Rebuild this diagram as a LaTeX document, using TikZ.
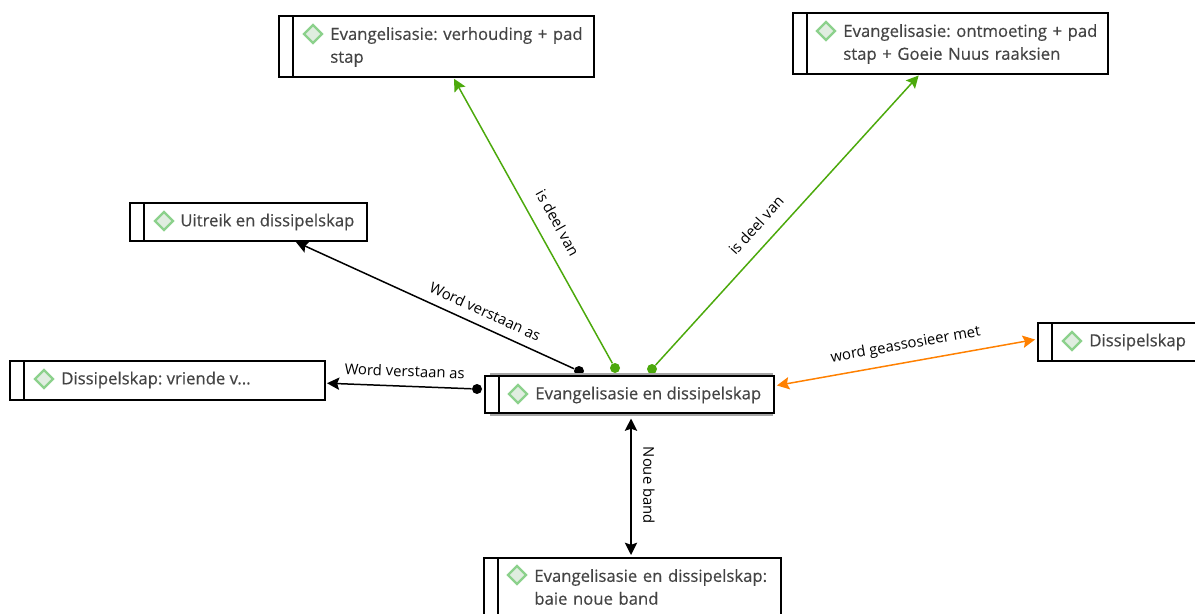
\documentclass[tikz,border=0pt]{standalone}
\usepackage{fontspec}
\setmainfont{Open Sans}
\newfontfamily\itemfont[FakeBold=0.4]{Open Sans}
\frenchspacing
\usetikzlibrary{positioning,arrows.meta,shapes.geometric}
\definecolor{boxtext}{HTML}{444444}
\definecolor{linkgreen}{HTML}{4CA90C}
\definecolor{linkorange}{HTML}{FF8000}
\tikzset{
	itembox/.style={draw=black,fill=white,line width=1.1pt,inner sep=0pt,outer sep=0pt},
	itemstrip/.style={draw=black,fill=white,line width=1.1pt,inner sep=0pt,outer sep=0pt,minimum width=0.28cm,anchor=east},
	itemmark/.style={diamond,draw=green!60!black!45,fill=green!40!black!12,line width=1.3pt,inner sep=0pt,minimum width=0.38cm,minimum height=0.38cm},
	itemtext/.style={text=boxtext,font=\itemfont\fontsize{9.5pt}{13pt}\selectfont,align=left,anchor=west,inner sep=0pt},
	linktext/.style={font=\fontsize{8.45pt}{10pt}\selectfont,sloped,above,inner sep=5pt},
	endblack/.style={circle,fill=black,inner sep=0pt,minimum size=0.2cm},
	endgreen/.style={circle,fill=linkgreen,inner sep=0pt,minimum size=0.2cm},
	linkline/.style={line width=0.85pt,shorten >=0.04cm,-{Stealth[length=7pt,width=7pt,inset=1.2pt]}},
	bothline/.style={line width=0.85pt,shorten >=0.06cm,shorten <=0.06cm,{Stealth[length=7pt,width=7pt,inset=1.2pt]}-{Stealth[length=7pt,width=7pt,inset=1.2pt]}},
}
\begin{document}
\begin{tikzpicture}[x=0.02cm,y=-0.02cm]
	\useasboundingbox (0,0) rectangle (1195,614);
	\clip (0,0) rectangle (1195,614);
	
	% ends of the links behind the middle box
	\node[endblack] (dotu) at (579,371) {};
	\node[endgreen] (dotv) at (615,368) {};
	\node[endgreen] (doto) at (652,369) {};
	\node[endblack] (dotd) at (477,389) {};
	
	\node[minimum height=0.82cm,minimum width=5.64cm,draw=gray!70,fill=gray!70,line width=0.6pt] (shade) at (631,394.5) {};
	
	\node[itembox,minimum height=0.74cm,minimum width=5.5cm] (evang) at (636.5,394.5) {};
	\node[itemstrip,minimum height=0.74cm] (evangs) at (evang.west) {};
	\node[itemmark] (evangm) at (518,394) {};
	\node[itemtext] (evangt) at (535,395) {Evangelisasie en dissipelskap};
	
	\node[itembox,minimum height=1.22cm,minimum width=6.02cm] (verh) at (443.5,46.5) {};
	\node[itemstrip,minimum height=1.22cm] (verhs) at (verh.west) {};
	\node[itemmark] (verhm) at (313,34) {};
	\node[itemtext,text width=5.3cm] (verht) at (330,47) {Evangelisasie: verhouding + pad\\stap};
	
	\node[itembox,minimum height=1.22cm,minimum width=6.02cm] (ontm) at (957.5,43.5) {};
	\node[itemstrip,minimum height=1.22cm] (ontms) at (ontm.west) {};
	\node[itemmark] (ontmm) at (826,31) {};
	\node[itemtext,text width=5.3cm] (ontmt) at (843,44) {Evangelisasie: ontmoeting + pad\\stap + Goeie Nuus raaksien};
	
	\node[itembox,minimum height=0.76cm,minimum width=4.46cm] (uitr) at (255.5,222) {};
	\node[itemstrip,minimum height=0.76cm] (uitrs) at (uitr.west) {};
	\node[itemmark] (uitrm) at (164,221) {};
	\node[itemtext] (uitrt) at (180,222) {Uitreik en dissipelskap};
	
	\node[itembox,minimum height=0.78cm,minimum width=6.02cm] (vrie) at (174.5,380.5) {};
	\node[itemstrip,minimum height=0.78cm] (vries) at (vrie.west) {};
	\node[itemmark] (vriem) at (44,379) {};
	\node[itemtext] (vriet) at (61,380) {Dissipelskap: vriende v...};
	
	\node[itembox,minimum height=0.76cm,minimum width=3.2cm] (diss) at (1132,342) {};
	\node[itemstrip,minimum height=0.76cm] (disss) at (diss.west) {};
	\node[itemmark] (dissm) at (1072,341) {};
	\node[itemtext] (disst) at (1089,342) {Dissipelskap};
	
	\node[itembox,minimum height=1.2cm,minimum width=5.66cm] (noue) at (639.5,588) {};
	\node[itemstrip,minimum height=1.2cm] (noues) at (noue.west) {};
	\node[itemmark] (nouem) at (517,575) {};
	\node[itemtext,text width=5.2cm] (nouet) at (534,587) {Evangelisasie en dissipelskap:\\baie noue band};
	
	\draw[linkline,draw=linkgreen,-{Stealth[length=7pt,width=7pt,inset=1.2pt,fill=linkgreen]}] (dotv)--(453,77) node[linktext,inner sep=8pt,pos=0.455] (lv) {is deel van};
	\draw[linkline,draw=linkgreen] (doto)--(920,74) node[linktext,inner sep=7.5pt,pos=0.435] (lo) {is deel van};
	\draw[linkline] (dotu)--(294,241) node[linktext,pos=0.34] (lu) {Word verstaan as};
	\draw[linkline] (dotd)--(vrie.-1) node[linktext,pos=0.46] (ld) {Word verstaan as};
	\draw[bothline,draw=linkorange] (evang.east|-0,386)--(disss.west|-0,339) node[linktext,pos=0.51] (lg) {word geassosieer met};
	\draw[bothline] (shade.south)--(noue.north-|shade.south) node[linktext,inner sep=6.5pt,pos=0.49] (ln) {Noue band};
\end{tikzpicture}
\end{document}
